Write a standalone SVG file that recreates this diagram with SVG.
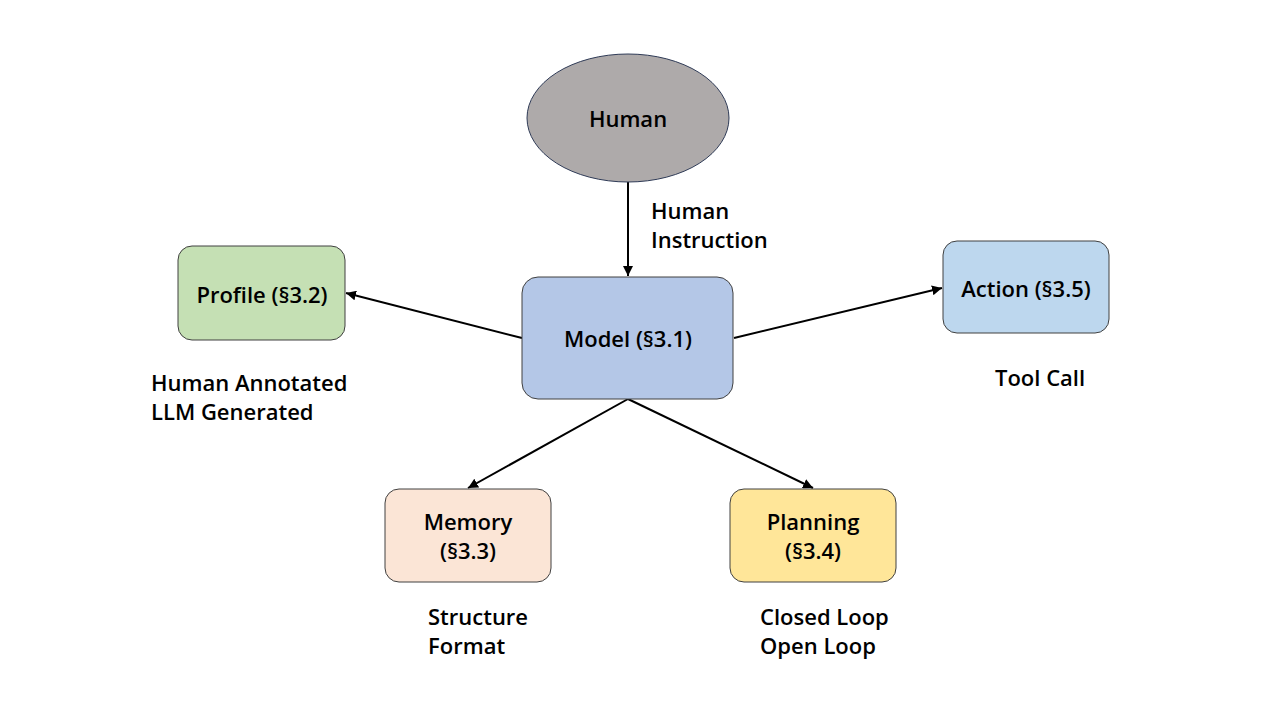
<svg xmlns="http://www.w3.org/2000/svg" width="1280" height="720" viewBox="0 0 1280 720">
<style>
text{font-family:"Open Sans","Noto Sans","Liberation Sans",sans-serif;font-size:22px;font-weight:600;fill:#000;dominant-baseline:central}
.c{text-anchor:middle}
.box{stroke:#404040;stroke-width:1}
.conn line{stroke:#000;stroke-width:2;fill:none}
</style>
<defs>
<marker id="ah" viewBox="0 0 10 10" refX="10" refY="5" markerWidth="5" markerHeight="5" orient="auto" markerUnits="strokeWidth">
<path d="M0,0 L10,5 L0,10 z" fill="#000"/>
</marker>
</defs>
<rect width="1280" height="720" fill="#fff"/>
<g class="conn">
<line x1="628" y1="182" x2="628" y2="276" marker-end="url(#ah)"/>
<line x1="522" y1="338" x2="346" y2="293" marker-end="url(#ah)"/>
<line x1="734" y1="338" x2="942" y2="288" marker-end="url(#ah)"/>
<line x1="628" y1="399" x2="468" y2="488" marker-end="url(#ah)"/>
<line x1="628" y1="399" x2="813" y2="488" marker-end="url(#ah)"/>
</g>
<g id="human">
<ellipse cx="628" cy="118" rx="101" ry="64" fill="#AEAAAA" stroke="#2F3B57" stroke-width="1"/>
<text class="c" x="628" y="118">Human</text>
</g>
<g id="model">
<rect class="box" x="522" y="277" width="211" height="122" rx="16" fill="#B4C7E7"/>
<text class="c" x="628" y="338">Model (§3.1)</text>
</g>
<g id="profile">
<rect class="box" x="178" y="246" width="167" height="94" rx="14" fill="#C5E0B4"/>
<text class="c" x="262" y="294">Profile (§3.2)</text>
</g>
<g id="action">
<rect class="box" x="943" y="241" width="166" height="92" rx="14" fill="#BDD7EE"/>
<text class="c" x="1026" y="288">Action (§3.5)</text>
</g>
<g id="memory">
<rect class="box" x="385" y="489" width="166" height="93" rx="14" fill="#FBE5D6"/>
<text class="c" x="468" y="521">Memory</text>
<text class="c" x="468" y="550">(§3.3)</text>
</g>
<g id="planning">
<rect class="box" x="730" y="489" width="166" height="93" rx="14" fill="#FFE699"/>
<text class="c" x="813" y="521">Planning</text>
<text class="c" x="813" y="550">(§3.4)</text>
</g>
<g id="labels">
<text x="651" y="210">Human</text>
<text x="651" y="239">Instruction</text>
<text x="151" y="382">Human Annotated</text>
<text x="151" y="411">LLM Generated</text>
<text x="995" y="377">Tool Call</text>
<text x="428" y="616">Structure</text>
<text x="428" y="645">Format</text>
<text x="760" y="616">Closed Loop</text>
<text x="760" y="645">Open Loop</text>
</g>
</svg>
